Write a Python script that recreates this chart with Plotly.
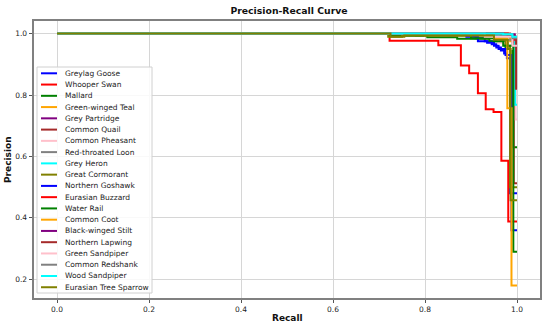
import plotly.graph_objects as go

# ---------------- data ----------------
class_names = ["Greylag Goose", "Whooper Swan", "Mallard", "Green-winged Teal", "Grey Partridge",
               "Common Quail", "Common Pheasant", "Red-throated Loon", "Grey Heron", "Great Cormorant",
               "Northern Goshawk", "Eurasian Buzzard", "Water Rail", "Common Coot", "Black-winged Stilt",
               "Northern Lapwing", "Green Sandpiper", "Common Redshank", "Wood Sandpiper",
               "Eurasian Tree Sparrow"]

recall_greylag_goose = [0, 0.91, 0.93, 0.945, 0.955, 0.965, 0.972, 0.978, 0.985, 1.0]
precision_greylag_goose = [1, 0.985, 0.975, 0.965, 0.955, 0.945, 0.935, 0.92, 0.48, 0.48]
recall_whooper_swan = [0, 0.723, 0.829, 0.878, 0.896, 0.915, 0.932, 0.949, 0.966, 0.981, 1.0]
precision_whooper_swan = [1, 0.977, 0.962, 0.896, 0.871, 0.806, 0.754, 0.745, 0.586, 0.388, 0.388]
recall_mallard = [0, 0.725, 0.805, 0.87, 0.94, 0.975, 0.99, 1.0]
precision_mallard = [1, 0.993, 0.988, 0.983, 0.975, 0.95, 0.63, 0.63]
recall_green_winged_teal = [0, 0.76, 0.96, 0.985, 0.996, 1.0]
precision_green_winged_teal = [1, 0.997, 0.99, 0.975, 0.93, 0.93]
recall_grey_partridge = [0, 0.85, 0.99, 0.996, 1.0]
precision_grey_partridge = [1, 0.995, 0.99, 0.96, 0.96]
recall_common_quail = [0, 0.97, 0.993, 1.0]
precision_common_quail = [1, 0.995, 0.513, 0.513]
recall_common_pheasant = [0, 0.9, 0.96, 0.98, 0.997, 1.0]
precision_common_pheasant = [1, 0.995, 0.97, 0.95, 0.72, 0.72]
recall_red_throated_loon = [0, 0.88, 0.975, 0.99, 1.0]
precision_red_throated_loon = [1, 0.995, 0.98, 0.965, 0.965]
recall_grey_heron = [0, 0.75, 0.96, 0.996, 1.0]
precision_grey_heron = [1, 0.996, 0.99, 0.768, 0.768]
recall_great_cormorant = [0, 0.72, 0.75, 0.93, 0.975, 0.985, 1.0]
precision_great_cormorant = [1, 0.99, 0.995, 0.985, 0.96, 0.5, 0.5]
recall_northern_goshawk = [0, 0.89, 0.915, 0.935, 0.95, 0.96, 0.975, 0.988, 1.0]
precision_northern_goshawk = [1, 0.99, 0.975, 0.97, 0.96, 0.95, 0.93, 0.36, 0.36]
recall_eurasian_buzzard = [0, 0.98, 0.995, 1.0]
precision_eurasian_buzzard = [1, 0.995, 0.98, 0.98]
recall_water_rail = [0, 0.78, 0.9, 0.95, 0.97, 0.992, 1.0]
precision_water_rail = [1, 0.995, 0.985, 0.975, 0.96, 0.29, 0.29]
recall_common_coot = [0, 0.8, 0.95, 0.979, 0.988, 1.0]
precision_common_coot = [1, 0.995, 0.985, 0.757, 0.18, 0.18]
recall_black_winged_stilt = [0, 0.97, 0.995, 1.0]
precision_black_winged_stilt = [1, 0.998, 0.985, 0.985]
recall_northern_lapwing = [0, 0.985, 0.998, 1.0]
precision_northern_lapwing = [1, 0.99, 0.82, 0.82]
recall_green_sandpiper = [0, 0.93, 0.99, 1.0]
precision_green_sandpiper = [1, 0.99, 0.96, 0.96]
recall_common_redshank = [0, 0.95, 0.99, 1.0]
precision_common_redshank = [1, 0.997, 0.985, 0.985]
recall_wood_sandpiper = [0, 0.97, 0.99, 1.0]
precision_wood_sandpiper = [1, 0.998, 0.99, 0.99]
recall_eurasian_tree_sparrow = [0, 0.725, 0.755, 0.95, 0.98, 0.986, 1.0]
precision_eurasian_tree_sparrow = [1, 0.99, 0.994, 0.98, 0.95, 0.457, 0.457]

x_ticks = [0.0, 0.2, 0.4, 0.6, 0.8, 1.0]
y_ticks = [0.2, 0.4, 0.6, 0.8, 1.0]

recalls = [recall_greylag_goose, recall_whooper_swan, recall_mallard, recall_green_winged_teal,
           recall_grey_partridge, recall_common_quail, recall_common_pheasant, recall_red_throated_loon,
           recall_grey_heron, recall_great_cormorant, recall_northern_goshawk, recall_eurasian_buzzard,
           recall_water_rail, recall_common_coot, recall_black_winged_stilt, recall_northern_lapwing,
           recall_green_sandpiper, recall_common_redshank, recall_wood_sandpiper, recall_eurasian_tree_sparrow]
precisions = [precision_greylag_goose, precision_whooper_swan, precision_mallard, precision_green_winged_teal,
              precision_grey_partridge, precision_common_quail, precision_common_pheasant,
              precision_red_throated_loon, precision_grey_heron, precision_great_cormorant,
              precision_northern_goshawk, precision_eurasian_buzzard, precision_water_rail,
              precision_common_coot, precision_black_winged_stilt, precision_northern_lapwing,
              precision_green_sandpiper, precision_common_redshank, precision_wood_sandpiper,
              precision_eurasian_tree_sparrow]

# ---------------- style ----------------
palette = ["#0000ff", "#ff0000", "#008000", "#ffa500", "#800080",
           "#a52a2a", "#ffc0cb", "#808080", "#00ffff", "#808000"]
FONT = "DejaVu Sans"
W, H = 550, 329
ML, MR, MT, MB = 34, 10, 21, 31
PW, PH = W - ML - MR, H - MT - MB

fig = go.Figure()
for i, name in enumerate(class_names):
    fig.add_trace(go.Scatter(x=recalls[i], y=precisions[i], mode="lines", name=name,
                             line=dict(color=palette[i % 10], width=2, shape="hv"),
                             showlegend=False))


def px_x(p):
    return (p - ML) / PW


def px_y(p):
    return (H - MB - p) / PH


# ---------------- manual legend (matplotlib-like) ----------------
leg_left, leg_right, leg_top, leg_bottom = 37, 152, 67, 293
fig.add_shape(type="rect", xref="paper", yref="paper",
              x0=px_x(leg_left), x1=px_x(leg_right), y0=px_y(leg_bottom), y1=px_y(leg_top),
              line=dict(color="#d0d0d0", width=1), fillcolor="rgba(255,255,255,0.85)", layer="above")
first_c, step = 73.3, 11.26
for i, name in enumerate(class_names):
    yc = first_c + i * step
    fig.add_shape(type="line", xref="paper", yref="paper",
                  x0=px_x(41), x1=px_x(57), y0=px_y(yc), y1=px_y(yc),
                  line=dict(color=palette[i % 10], width=2), layer="above")
    fig.add_annotation(xref="paper", yref="paper", x=px_x(62.5), y=px_y(yc),
                       text=name, showarrow=False, xanchor="left", yanchor="middle",
                       font=dict(family=FONT, size=7.5, color="#222222"))

# axis titles
fig.add_annotation(xref="paper", yref="paper", x=px_x(287), y=px_y(318),
                   text="<b>Recall</b>", showarrow=False, xanchor="center", yanchor="middle",
                   font=dict(family=FONT, size=9, color="#111111"))
fig.add_annotation(xref="paper", yref="paper", x=px_x(8), y=px_y(160), textangle=-90,
                   text="<b>Precision</b>", showarrow=False, xanchor="center", yanchor="middle",
                   font=dict(family=FONT, size=9, color="#111111"))

fig.update_layout(
    width=W, height=H,
    margin=dict(l=ML, r=MR, t=MT, b=MB, autoexpand=False),
    paper_bgcolor="white", plot_bgcolor="white",
    title=dict(text="<b>Precision-Recall Curve</b>", x=px_x(289), xref="paper",
               y=1 - 11 / H, yref="container", yanchor="middle", xanchor="center",
               font=dict(family=FONT, size=9.3, color="#111111")),
    font=dict(family=FONT, size=7.5, color="#222222"),
    hovermode=False,
)
axis_common = dict(showline=True, mirror=True, linecolor="#808080", linewidth=1.8,
                   showgrid=True, gridcolor="#d6d6d6", gridwidth=1.2, zeroline=False,
                   ticks="outside", ticklen=3.5, tickwidth=1, tickcolor="#555555",
                   tickformat=".1f", automargin=False,
                   tickfont=dict(family=FONT, size=7.5, color="#222222"))
fig.update_xaxes(range=[-0.05, 1.05], tickvals=x_ticks, **axis_common)
fig.update_yaxes(range=[0.139, 1.041], tickvals=y_ticks, **axis_common)

fig.write_html("out.html", config={"displayModeBar": False},
               post_script="document.body.style.margin='0px';")
